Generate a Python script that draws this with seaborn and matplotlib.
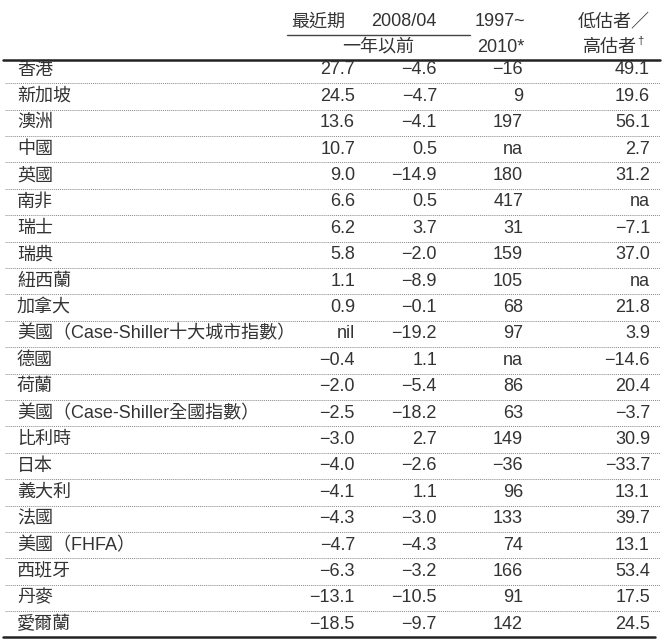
import matplotlib
matplotlib.use("Agg")
import matplotlib.pyplot as plt
import seaborn as sns
import pandas as pd

sns.set_theme(style="white")
plt.rcParams['font.family'] = ['Liberation Sans', 'Noto Sans CJK TC', 'DejaVu Sans']

countries = ["香港", "新加坡", "澳洲", "中國", "英國", "南非", "瑞士", "瑞典", "紐西蘭", "加拿大",
             "美國（Case-Shiller十大城市指數）", "德國", "荷蘭", "美國（Case-Shiller全國指數）",
             "比利時", "日本", "義大利", "法國", "美國（FHFA）", "西班牙", "丹麥", "愛爾蘭"]
latest = ["27.7", "24.5", "13.6", "10.7", "9.0", "6.6", "6.2", "5.8", "1.1", "0.9", "nil", "−0.4",
          "−2.0", "−2.5", "−3.0", "−4.0", "−4.1", "−4.3", "−4.7", "−6.3", "−13.1", "−18.5"]
year_ago = ["−4.6", "−4.7", "−4.1", "0.5", "−14.9", "0.5", "3.7", "−2.0", "−8.9", "−0.1", "−19.2",
            "1.1", "−5.4", "−18.2", "2.7", "−2.6", "1.1", "−3.0", "−4.3", "−3.2", "−10.5", "−9.7"]
since_1997 = ["−16", "9", "197", "na", "180", "417", "31", "159", "105", "68", "97", "na", "86",
              "63", "149", "−36", "96", "133", "74", "166", "91", "142"]
valuation = ["49.1", "19.6", "56.1", "2.7", "31.2", "na", "−7.1", "37.0", "na", "21.8", "3.9",
             "−14.6", "20.4", "−3.7", "30.9", "−33.7", "13.1", "39.7", "13.1", "53.4", "17.5", "24.5"]

df = pd.DataFrame({"country": countries, "latest": latest, "year_ago": year_ago,
                   "since": since_1997, "val": valuation})

W, H = 666, 642
fig = plt.figure(figsize=(W / 100, H / 100), dpi=100)
ax = fig.add_axes([0, 0, 1, 1])
ax.set_xlim(0, W)
ax.set_ylim(H, 0)
ax.axis("off")

txt = "#333333"
fs = 13
col_right = {"latest": 355, "year_ago": 437, "since": 523, "val": 650}
n = len(df)
row0, step = 70, 26.4

# header
ax.text(318, 22, "最近期", ha="center", va="center", fontsize=fs, color=txt)
ax.text(437, 22, "2008/04", ha="right", va="center", fontsize=fs, color=txt)
ax.plot([287, 470], [35, 35], color="#444444", lw=1.0)
ax.text(378, 47, "一年以前", ha="center", va="center", fontsize=fs, color=txt)
ax.text(525, 22, "1997~", ha="right", va="center", fontsize=fs, color=txt)
ax.text(525, 47, "2010*", ha="right", va="center", fontsize=fs, color=txt)
ax.text(614, 22, "低估者／", ha="center", va="center", fontsize=fs, color=txt)
ax.text(610, 47, "高估者", ha="center", va="center", fontsize=fs, color=txt)
ax.text(637, 41, "†", ha="left", va="center", fontsize=8, color=txt)

ax.plot([3, 660], [60, 60], color="#222222", lw=1.8)

for i, row in df.iterrows():
    y = row0 + i * step
    ax.text(17, y, row["country"], ha="left", va="center", fontsize=fs, color=txt)
    for c in ["latest", "year_ago", "since", "val"]:
        ax.text(col_right[c], y, row[c], ha="right", va="center", fontsize=fs, color=txt)
    if i < n - 1:
        ax.plot([5, 660], [y + step / 2, y + step / 2], color="#888888", lw=0.7, ls=(0, (1, 1)))

yb = row0 + (n - 1) * step + 13
ax.plot([3, 655], [yb, yb], color="#222222", lw=1.8)

fig.savefig("out.png", dpi=100, facecolor="white")
